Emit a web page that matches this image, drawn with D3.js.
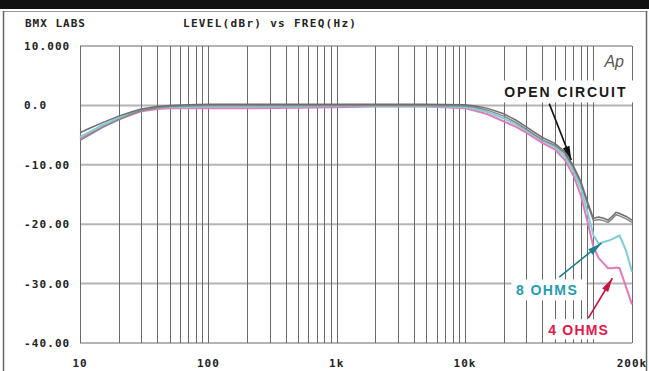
<!DOCTYPE html>
<html>
<head>
<meta charset="utf-8">
<script src="https://cdn.jsdelivr.net/npm/d3@7"></script>
<style>
  body { margin: 0; background: #fff; }
  svg { display: block; }
</style>
</head>
<body>
<div class="chart"></div>
<script>
// frequency points (Hz)
const freqs = [10, 12, 15, 20, 25, 30, 40, 50, 70, 100, 200, 500, 1000, 2000, 5000,
  10000, 12000, 15000, 20000, 25000, 30000, 40000, 50000, 60000, 70000, 80000, 90000,
  100000, 110000, 120000, 130000, 140000, 150000, 160000, 180000, 200000];

// level (dBr)
const openA = [-4.6, -3.8, -2.9, -1.8, -1.1, -0.6, -0.2, 0.0, 0.1, 0.2, 0.2, 0.2, 0.2, 0.2, 0.2,
  0.1, -0.1, -0.5, -1.4, -2.5, -3.6, -5.4, -6.4, -7.8, -10.2, -12.8, -16.2,
  -19.0, -18.8, -19.0, -19.3, -18.7, -18.0, -18.2, -18.7, -19.3];
const openB = [-5.9, -4.9, -3.7, -2.4, -1.5, -0.9, -0.4, -0.2, -0.1, 0.0, 0.0, 0.0, 0.0, 0.0, 0.0,
  -0.1, -0.3, -0.8, -1.8, -2.9, -4.0, -5.8, -6.7, -8.1, -10.5, -13.2, -16.6,
  -19.4, -19.2, -19.4, -19.7, -19.1, -18.4, -18.6, -19.1, -19.7];
const ohms8 = [-5.3, -4.4, -3.3, -2.1, -1.3, -0.8, -0.4, -0.3, -0.3, -0.2, -0.2, -0.2, -0.1, -0.1, -0.1,
  -0.3, -0.6, -1.1, -2.2, -3.2, -4.2, -5.9, -7.0, -8.6, -11.0, -14.0, -18.0,
  -21.8, -23.3, -23.0, -22.8, -22.5, -22.2, -21.9, -24.5, -28.0];
const ohms4 = [-5.6, -4.7, -3.6, -2.4, -1.6, -1.0, -0.6, -0.5, -0.5, -0.5, -0.5, -0.4, -0.3, -0.2, -0.2,
  -0.5, -0.9, -1.5, -2.7, -3.6, -4.6, -6.3, -7.4, -9.2, -11.8, -15.2, -19.6,
  -23.8, -25.7, -26.6, -27.4, -27.4, -27.3, -27.4, -30.6, -33.5];

const yTicks = [10, 0, -10, -20, -30, -40];
const yTickLabels = ["10.000", "0.0", "-10.00", "-20.00", "-30.00", "-40.00"];
const xTicks = [10, 100, 1000, 10000, 200000];
const xTickLabels = ["10", "100", "1k", "10k", "200k"];

var width = 649,
    height = 371;

var x = d3.scaleLog().domain([10, 200000]).range([80, 632]);
var y = d3.scaleLinear().domain([-40, 10]).range([343, 46]);

var svg = d3.select(".chart")
    .append("svg")
    .attr("width", width)
    .attr("height", height);

// scan frame
svg.append("rect").attr("x", 0).attr("y", 0).attr("width", width).attr("height", 9).attr("fill", "#111");
svg.append("line").attr("x1", 3).attr("x2", 646).attr("y1", 11.5).attr("y2", 11.5).attr("stroke", "#999");
svg.append("line").attr("x1", 3.5).attr("x2", 3.5).attr("y1", 11).attr("y2", height).attr("stroke", "#666").attr("stroke-width", 1.5);
svg.append("line").attr("x1", 646.5).attr("x2", 646.5).attr("y1", 11).attr("y2", height).attr("stroke", "#666").attr("stroke-width", 1.5);

var mono = "'DejaVu Sans Mono', monospace";

// header
svg.append("text").attr("x", 25).attr("y", 27).text("BMX LABS")
    .attr("font-family", mono).attr("font-weight", "bold").attr("font-size", 11).attr("letter-spacing", 1).attr("fill", "#222");
svg.append("text").attr("x", 183).attr("y", 27).text("LEVEL(dBr) vs FREQ(Hz)")
    .attr("font-family", mono).attr("font-weight", "bold").attr("font-size", 11).attr("letter-spacing", 1.3).attr("fill", "#222");

// vertical log grid
var gridFreqs = [];
for (let dec = 10; dec <= 100000; dec *= 10) {
  for (let m = 1; m <= 9; m++) {
    if (dec * m <= 200000) gridFreqs.push(dec * m);
  }
}
gridFreqs.push(200000);

svg.append("g").selectAll("line")
    .data(yTicks)
    .enter().append("line")
    .attr("x1", 80).attr("x2", 632)
    .attr("y1", d => y(d)).attr("y2", d => y(d))
    .attr("stroke", "#b4b4b4")
    .attr("stroke-width", 2);

svg.append("g").selectAll("line")
    .data(gridFreqs)
    .enter().append("line")
    .attr("x1", d => Math.round(x(d)) + 0.5).attr("x2", d => Math.round(x(d)) + 0.5)
    .attr("y1", y(10)).attr("y2", y(-40))
    .attr("stroke", "#6a6a6a")
    .attr("stroke-width", 1);

// tick labels
svg.append("g").selectAll("text")
    .data(yTicks)
    .enter().append("text")
    .attr("x", 24)
    .attr("y", d => y(d) + 4)
    .text((d, i) => yTickLabels[i])
    .attr("font-family", mono).attr("font-weight", "bold").attr("font-size", 11)
    .attr("letter-spacing", 1.1).attr("fill", "#222");

svg.append("g").selectAll("text")
    .data(xTicks)
    .enter().append("text")
    .attr("x", d => x(d))
    .attr("y", 367)
    .attr("text-anchor", "middle")
    .text((d, i) => xTickLabels[i])
    .attr("font-family", mono).attr("font-weight", "bold").attr("font-size", 11)
    .attr("letter-spacing", 1).attr("fill", "#222");

// curves
var series = [
  {values: ohms4, color: "#e27ab8", w: 2},
  {values: ohms8, color: "#7fcdd6", w: 2},
  {values: openB, color: "#858585", w: 1.5},
  {values: openA, color: "#6e6e6e", w: 1.5}
];

var line = d3.line()
    .x(function(d) { return x(d[0]); })
    .y(function(d) { return y(d[1]); });

svg.append("g").selectAll("path")
    .data(series)
    .enter().append("path")
    .attr("d", s => line(freqs.map((f, i) => [f, s.values[i]])))
    .attr("fill", "none")
    .attr("stroke", s => s.color)
    .attr("stroke-width", s => s.w);

// annotations
var sans = "'Liberation Sans', Arial, sans-serif";

svg.append("rect").attr("x", x(19000)).attr("y", y(4.2)).attr("width", 133).attr("height", 22).attr("fill", "#fff");
svg.append("rect").attr("x", x(23000)).attr("y", y(-29.3)).attr("width", 75).attr("height", 21).attr("fill", "#fff");
svg.append("rect").attr("x", x(41000)).attr("y", y(-36)).attr("width", 68).attr("height", 20).attr("fill", "#fff");

svg.append("text").attr("x", x(122000)).attr("y", y(6.5)).text("Ap")
    .attr("font-family", sans).attr("font-style", "italic").attr("font-size", 16).attr("fill", "#555");

svg.append("text").attr("x", x(20200)).attr("y", y(1.35)).text("OPEN CIRCUIT")
    .attr("font-family", sans).attr("font-weight", "bold").attr("font-size", 14)
    .attr("letter-spacing", 1.9).attr("fill", "#1a1a1a");
svg.append("text").attr("x", x(25000)).attr("y", y(-31.9)).text("8 OHMS")
    .attr("font-family", sans).attr("font-weight", "bold").attr("font-size", 14)
    .attr("letter-spacing", 1.4).attr("fill", "#1f9cb4");
svg.append("text").attr("x", x(44500)).attr("y", y(-38.7)).text("4 OHMS")
    .attr("font-family", sans).attr("font-weight", "bold").attr("font-size", 14)
    .attr("letter-spacing", 1.2).attr("fill", "#e3174c");

function arrow(f0, d0, f1, d1, color) {
  var x0 = x(f0), y0 = y(d0), x1 = x(f1), y1 = y(d1);
  var a = Math.atan2(y1 - y0, x1 - x0);
  svg.append("line").attr("x1", x0).attr("y1", y0).attr("x2", x1).attr("y2", y1)
      .attr("stroke", color).attr("stroke-width", 1.6);
  var len = 14, half = 3.5;
  var bx = x1 - len * Math.cos(a), by = y1 - len * Math.sin(a);
  var pts = [[x1, y1],
    [bx + half * Math.sin(a), by - half * Math.cos(a)],
    [bx - half * Math.sin(a), by + half * Math.cos(a)]];
  svg.append("path").attr("d", "M" + pts.join("L") + "Z").attr("fill", color);
}

arrow(45300, 0.3, 67300, -9.2, "#111");
arrow(54200, -28.9, 115500, -23.2, "#1d7f93");
arrow(91400, -35.8, 140600, -29.1, "#c8123f");
</script>
</body>
</html>
